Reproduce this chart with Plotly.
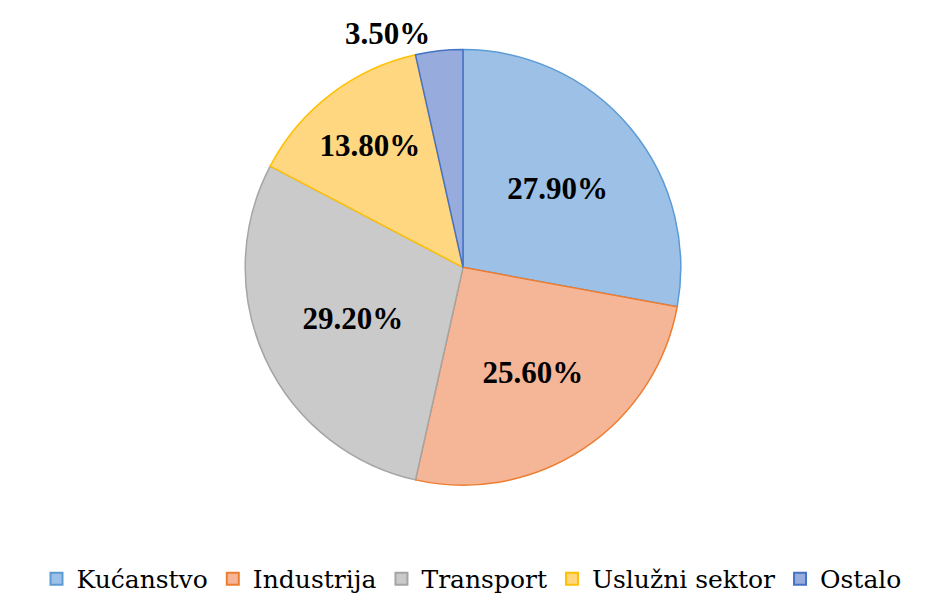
import plotly.graph_objects as go

categories = ["Kućanstvo", "Industrija", "Transport", "Uslužni sektor", "Ostalo"]
values = [27.9, 25.6, 29.2, 13.8, 3.5]
fill_colors = ["#9dc0e6", "#f5b597", "#cacaca", "#ffd780", "#97acdd"]
line_colors = ["#5b9bd5", "#ed7d31", "#a5a5a5", "#ffc000", "#4472c4"]
text_labels = [f"{v:.2f}%" for v in values]
text_positions = ["inside", "inside", "inside", "inside", "outside"]

SERIF = "Liberation Serif"
label_font = dict(family=SERIF, size=31, color="black", weight="bold")

fig = go.Figure(go.Pie(
    labels=categories,
    values=values,
    text=text_labels,
    textinfo="text",
    textposition=text_positions,
    insidetextorientation="horizontal",
    sort=False,
    direction="clockwise",
    rotation=0,
    marker=dict(colors=fill_colors, line=dict(color=line_colors, width=1.5)),
    textfont=label_font,
    insidetextfont=label_font,
    outsidetextfont=label_font,
    domain=dict(x=[235/927, 675/927], y=[1-482/594, 1-42/594]),
    automargin=False,
))

fig.update_layout(
    width=927, height=594,
    margin=dict(l=0, r=0, t=0, b=0),
    paper_bgcolor="white",
    plot_bgcolor="white",
    font=dict(family="DejaVu Serif", color="black", size=25),
    showlegend=True,
    legend=dict(
        orientation="h", x=0.5, xanchor="center", y=-0.01, yanchor="bottom",
        font=dict(family="DejaVu Serif", size=25, color="black"),
        itemsizing="constant",
        itemwidth=30,
        tracegroupgap=0,
    ),
)

fig.write_html("out.html")
